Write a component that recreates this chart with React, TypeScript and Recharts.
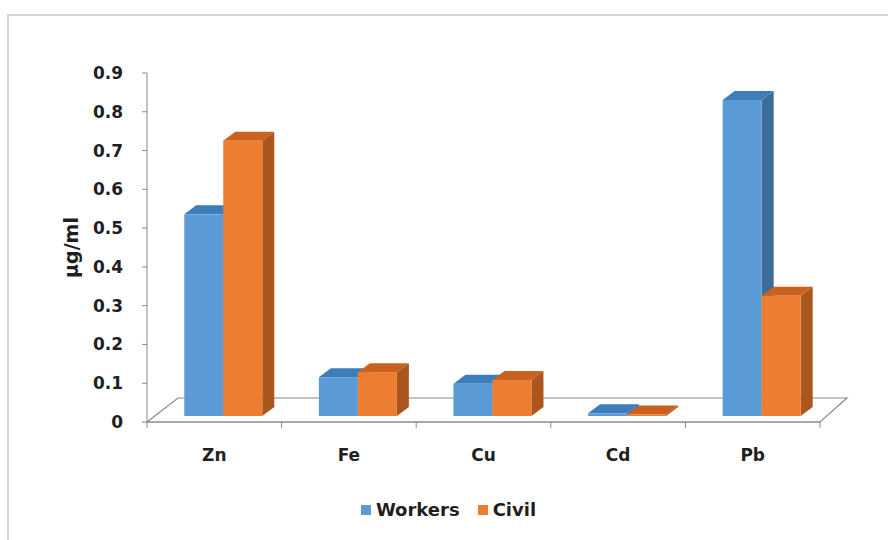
import { Bar, BarChart, Legend, ReferenceLine, XAxis, YAxis } from "recharts";

const metals = ["Zn", "Fe", "Cu", "Cd", "Pb"];
const workersValues = [0.52, 0.1, 0.083, 0.007, 0.815];
const civilValues = [0.71, 0.113, 0.093, 0.004, 0.31];
const yTicks = [0, 0.1, 0.2, 0.3, 0.4, 0.5, 0.6, 0.7, 0.8, 0.9];

const data = metals.map((metal, i) => ({
  metal,
  workers: workersValues[i],
  civil: civilValues[i],
}));

const FONT = "'DejaVu Sans', 'Liberation Sans', sans-serif";
const TEXT = "#1f1f1f";
const AXIS = "#8a8a8a";

// oblique 3d look, in px
const FACE_DX = 9; // bars sit a bit back on the floor
const FACE_DY = 6;
const BOX_DX = 12; // bar depth
const BOX_DY = 9;
const FLOOR_DX = 31;
const FLOOR_DY = 24;

const colors = {
  workers: { front: "#5B9BD5", top: "#3F7DBA", side: "#3D6C99" },
  civil: { front: "#ED7D31", top: "#C9621F", side: "#AA561D" },
};

function Box3D(props: any) {
  const { x, y, width, height, palette } = props;
  if (x == null || y == null) return null;
  const fx = x + FACE_DX;
  const fy = y - FACE_DY;
  const h = Math.max(height, 1);
  const topPts = [
    [fx, fy],
    [fx + BOX_DX, fy - BOX_DY],
    [fx + width + BOX_DX, fy - BOX_DY],
    [fx + width, fy],
  ];
  const sidePts = [
    [fx + width, fy],
    [fx + width + BOX_DX, fy - BOX_DY],
    [fx + width + BOX_DX, fy + h - BOX_DY],
    [fx + width, fy + h],
  ];
  return (
    <g>
      <polygon points={sidePts.map((p) => p.join(",")).join(" ")} fill={palette.side} />
      <polygon points={topPts.map((p) => p.join(",")).join(" ")} fill={palette.top} />
      <rect x={fx} y={fy} width={width} height={h} fill={palette.front} />
    </g>
  );
}

function Floor(props: any) {
  const { x1, y1, x2, y2 } = props;
  if (x1 == null) return null;
  const pts = [
    [x1, y1],
    [x2, y2],
    [x2 + FLOOR_DX - 4, y2 - FLOOR_DY],
    [x1 + FLOOR_DX, y1 - FLOOR_DY],
  ];
  return (
    <polygon
      points={pts.map((p) => p.join(",")).join(" ")}
      fill="#ffffff"
      stroke={AXIS}
      strokeWidth={1.2}
    />
  );
}

function CategoryTick(props: any) {
  const { x, y, payload, index, visibleTicksCount } = props;
  const half = payload?.offset || 673 / (2 * metals.length);
  const last = index === (visibleTicksCount ?? metals.length) - 1;
  return (
    <g>
      <line x1={x - half} y1={y} x2={x - half} y2={y + 6} stroke={AXIS} />
      {last && <line x1={x + half} y1={y} x2={x + half} y2={y + 6} stroke={AXIS} />}
      <text
        x={x}
        y={y + 39}
        textAnchor="middle"
        fill={TEXT}
        fontFamily={FONT}
        fontWeight="bold"
        fontSize={17}
      >
        {payload.value}
      </text>
    </g>
  );
}

function LegendContent() {
  const items = [
    { label: "Workers", color: colors.workers.front },
    { label: "Civil", color: colors.civil.front },
  ];
  return (
    <div style={{ display: "flex", justifyContent: "center", paddingLeft: 27 }}>
      {items.map((it) => (
        <div key={it.label} style={{ display: "flex", alignItems: "center", marginRight: 18 }}>
          <span style={{ width: 10, height: 10, background: it.color, marginRight: 5 }} />
          <span style={{ fontFamily: FONT, fontWeight: "bold", fontSize: 18, color: TEXT }}>
            {it.label}
          </span>
        </div>
      ))}
    </div>
  );
}

export default function App() {
  return (
    <div
      style={{
        position: "absolute",
        left: 0,
        top: 0,
        width: 888,
        height: 540,
        background: "#ffffff",
        overflow: "hidden",
      }}
    >
      <div
        style={{
          position: "absolute",
          left: 7,
          top: 14,
          width: 881,
          height: 2,
          background: "#d4d4d4",
        }}
      />
      <div
        style={{
          position: "absolute",
          left: 7,
          top: 14,
          width: 2,
          height: 526,
          background: "#d4d4d4",
        }}
      />
      <BarChart
        width={888}
        height={540}
        data={data}
        margin={{ top: 73, right: 68, bottom: 78, left: 67 }}
        barCategoryGap="21%"
        barGap={0}
        style={{ position: "absolute", left: 0, top: 0 }}
      >
        <ReferenceLine y={0} zIndex={-10} shape={(p: any) => <Floor {...p} />} />
        <XAxis
          dataKey="metal"
          height={40}
          axisLine={{ stroke: AXIS }}
          tickLine={false}
          tickSize={0}
          tickMargin={0}
          interval={0}
          tick={(p: any) => <CategoryTick {...p} />}
        />
        <YAxis
          width={80}
          domain={[0, 0.9]}
          ticks={yTicks}
          interval={0}
          axisLine={{ stroke: AXIS }}
          tickLine={{ stroke: AXIS }}
          tickSize={5}
          tickMargin={19}
          tick={{ fill: TEXT, fontFamily: FONT, fontWeight: "bold", fontSize: 17 }}
          label={{
            value: "µg/ml",
            angle: -90,
            position: "insideLeft",
            offset: 4,
            style: {
              textAnchor: "middle",
              fill: TEXT,
              fontFamily: FONT,
              fontWeight: "bold",
              fontSize: 19,
            },
          }}
        />
        <Legend
          layout="horizontal"
          verticalAlign="middle"
          align="center"
          wrapperStyle={{ top: 499, left: 0, width: 888 }}
          content={() => <LegendContent />}
        />
        <Bar
          dataKey="workers"
          name="Workers"
          isAnimationActive={false}
          shape={(p: any) => <Box3D {...p} palette={colors.workers} />}
        />
        <Bar
          dataKey="civil"
          name="Civil"
          isAnimationActive={false}
          shape={(p: any) => <Box3D {...p} palette={colors.civil} />}
        />
      </BarChart>
    </div>
  );
}
